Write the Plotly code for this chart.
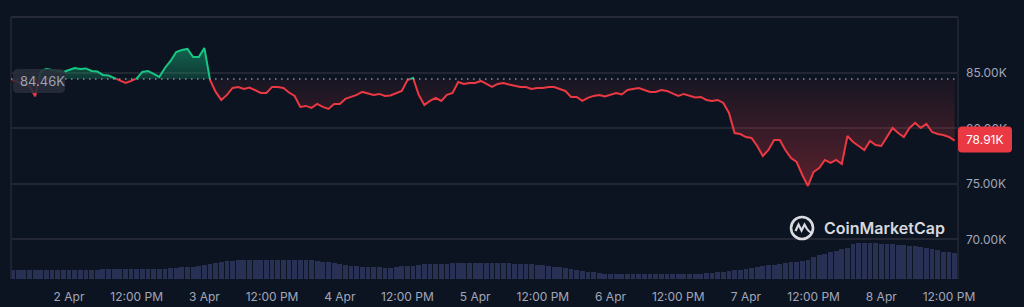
import plotly.graph_objects as go
import pandas as pd

# ---------------- data ----------------
start_time = "2025-04-01 14:00"

price_k = [
    84.37, 84.19, 84.01, 83.83, 82.90, 85.18, 85.36, 85.27, 85.18, 85.09,
    85.27, 85.45, 85.36, 85.41, 85.18, 85.14, 84.82, 84.77, 84.55, 84.32,
    84.10, 84.28, 84.50, 85.09, 85.18, 84.91, 84.64, 85.45, 86.08, 86.89,
    87.07, 87.16, 86.44, 86.44, 87.25, 84.37, 83.29, 82.57, 83.02, 83.65,
    83.74, 83.56, 83.69, 83.47, 83.20, 83.20, 83.74, 83.74, 83.65, 83.24,
    82.93, 81.94, 82.03, 81.85, 82.21, 81.94, 81.76, 82.21, 82.21, 82.66,
    82.84, 83.02, 83.29, 83.15, 83.02, 83.11, 82.93, 82.97, 83.20, 83.38,
    84.37, 84.55, 83.02, 82.12, 82.48, 82.75, 82.48, 83.02, 83.20, 84.19,
    84.01, 84.10, 84.10, 84.28, 84.01, 83.74, 84.01, 84.10, 83.96, 83.83,
    83.74, 83.74, 83.56, 83.65, 83.65, 83.74, 83.74, 83.56, 83.38, 82.84,
    82.84, 82.48, 82.75, 82.93, 83.02, 82.88, 83.02, 83.20, 83.06, 83.47,
    83.56, 83.65, 83.47, 83.29, 83.29, 83.47, 83.38, 83.15, 82.93, 83.11,
    82.93, 82.79, 82.84, 82.57, 82.48, 82.57, 82.30, 81.40, 79.59, 79.50,
    79.23, 79.14, 78.42, 77.52, 78.06, 78.96, 78.96, 78.06, 77.34, 76.98,
    75.81, 74.82, 76.08, 76.44, 77.16, 76.89, 77.16, 76.80, 79.32, 78.78,
    78.42, 78.06, 78.87, 78.51, 78.42, 79.23, 80.05, 79.59, 79.23, 80.05,
    80.50, 80.05, 80.41, 79.68, 79.50, 79.41, 79.23, 78.91,
]

volume_b = [
    13.5, 13.5, 13.5, 13.5, 14.2, 14.2, 14.2, 14.2, 14.2, 14.2,
    14.2, 14.2, 14.2, 14.2, 14.2, 14.2, 15.5, 15.5, 15.5, 15.5,
    15.5, 15.5, 15.5, 15.5, 15.0, 15.0, 15.0, 15.0, 16.5, 17.0,
    17.5, 17.5, 18.0, 19.0, 21.0, 22.5, 24.0, 25.5, 26.5, 27.5,
    28.5, 28.5, 28.5, 28.5, 28.5, 28.5, 28.5, 28.5, 28.5, 28.5,
    28.5, 28.5, 28.5, 28.5, 27.0, 26.0, 25.0, 24.0, 22.5, 21.0,
    20.0, 19.5, 18.5, 18.5, 18.5, 18.5, 17.0, 17.0, 17.5, 19.0,
    19.5, 20.0, 21.0, 22.0, 22.0, 22.0, 22.0, 22.0, 23.5, 24.5,
    24.5, 24.0, 23.5, 23.5, 23.5, 23.5, 23.5, 23.5, 23.5, 22.5,
    22.0, 22.0, 22.0, 21.5, 21.0, 19.5, 18.5, 17.5, 16.0, 14.5,
    13.5, 12.0, 11.0, 10.0, 9.0, 7.5, 7.0, 7.0, 7.0, 7.0,
    7.0, 7.0, 7.0, 7.0, 7.0, 7.0, 7.0, 7.0, 7.0, 7.0,
    7.0, 7.0, 7.0, 8.5, 9.5, 10.0, 10.5, 12.0, 13.0, 14.0,
    15.5, 17.0, 18.5, 19.5, 20.5, 21.5, 22.5, 23.5, 25.0, 26.0,
    27.0, 29.0, 33.0, 36.0, 38.0, 40.0, 42.0, 45.0, 47.0, 53.0,
    54.5, 54.5, 54.0, 53.5, 53.0, 52.5, 52.0, 51.5, 51.0, 50.0,
    49.0, 48.0, 47.0, 45.0, 43.0, 41.0, 40.0, 39.0,
]

base_price_k = 84.46
last_price_k = 78.91

x_tick_dates = [
    "2025-04-02 00:00", "2025-04-02 12:00", "2025-04-03 00:00", "2025-04-03 12:00",
    "2025-04-04 00:00", "2025-04-04 12:00", "2025-04-05 00:00", "2025-04-05 12:00",
    "2025-04-06 00:00", "2025-04-06 12:00", "2025-04-07 00:00", "2025-04-07 12:00",
    "2025-04-08 00:00", "2025-04-08 12:00",
]
x_tick_labels = [
    "2 Apr", "12:00 PM", "3 Apr", "12:00 PM", "4 Apr", "12:00 PM", "5 Apr",
    "12:00 PM", "6 Apr", "12:00 PM", "7 Apr", "12:00 PM", "8 Apr", "12:00 PM",
]
y_tick_values = [70, 75, 80, 85]
y_tick_labels = ["70.00K", "75.00K", "80.00K", "85.00K"]

# ---------------- styling ----------------
BG = "#0d1421"
GRID = "#232733"
GREEN = "#16c784"
RED = "#ea3943"
AXIS_TXT = "#a1a7bb"
FONT = "Inter"
LOGO = "rgba(235,237,242,0.92)"

n = min(len(price_k), len(volume_b))
price = price_k[:n]
volume = volume_b[:n]
times = pd.date_range(start_time, periods=n, freq="h")

# insert baseline crossings so the colour switch happens exactly on the baseline
tnum = times.asi8
cx, cy = [], []
for i in range(n):
    if i > 0:
        a, b = price[i - 1], price[i]
        if (a - base_price_k) * (b - base_price_k) < 0:
            f = (base_price_k - a) / (b - a)
            tc = tnum[i - 1] + f * (tnum[i] - tnum[i - 1])
            cx.append(pd.Timestamp(int(tc)))
            cy.append(base_price_k)
    cx.append(times[i])
    cy.append(price[i])

upper = [max(v, base_price_k) for v in cy]
lower = [min(v, base_price_k) for v in cy]
green_line = [v if v >= base_price_k else None for v in cy]
red_line = [v if v <= base_price_k else None for v in cy]
base_arr = [base_price_k] * len(cx)

fig = go.Figure()

# volume
fig.add_trace(go.Bar(
    x=times, y=volume, yaxis="y2",
    marker=dict(color="#283154", line=dict(width=0)),
    width=3600000 * 0.85, hoverinfo="skip", showlegend=False,
))

# green fill
fig.add_trace(go.Scatter(x=cx, y=base_arr, mode="lines", line=dict(width=0),
                         hoverinfo="skip", showlegend=False))
fig.add_trace(go.Scatter(
    x=cx, y=upper, mode="lines", line=dict(width=0), fill="tonexty",
    fillgradient=dict(type="vertical",
                      colorscale=[[0, "rgba(22,199,132,0.20)"], [1, "rgba(22,199,132,0.45)"]]),
    hoverinfo="skip", showlegend=False))
# red fill
fig.add_trace(go.Scatter(x=cx, y=base_arr, mode="lines", line=dict(width=0),
                         hoverinfo="skip", showlegend=False))
fig.add_trace(go.Scatter(
    x=cx, y=lower, mode="lines", line=dict(width=0), fill="tonexty",
    fillgradient=dict(type="vertical",
                      colorscale=[[0, "rgba(234,57,67,0.34)"], [1, "rgba(234,57,67,0.05)"]]),
    hoverinfo="skip", showlegend=False))

# price lines
fig.add_trace(go.Scatter(x=cx, y=green_line, mode="lines",
                         line=dict(color=GREEN, width=2), connectgaps=False,
                         hoverinfo="skip", showlegend=False))
fig.add_trace(go.Scatter(x=cx, y=red_line, mode="lines",
                         line=dict(color=RED, width=2), connectgaps=False,
                         hoverinfo="skip", showlegend=False))


def rrect(x0, y0, x1, y1, r):
    return (f"M {x0+r},{y0} L {x1-r},{y0} Q {x1},{y0} {x1},{y0+r} "
            f"L {x1},{y1-r} Q {x1},{y1} {x1-r},{y1} L {x0+r},{y1} "
            f"Q {x0},{y1} {x0},{y1-r} L {x0},{y0+r} Q {x0},{y0} {x0+r},{y0} Z")


LOGO_X, LOGO_Y = 0.8353, 0.1947

shapes = [
    # frame
    dict(type="line", xref="paper", yref="paper", x0=0, x1=1, y0=1, y1=1,
         line=dict(color="#272b37", width=2)),
    dict(type="line", xref="paper", yref="paper", x0=0, x1=0, y0=0, y1=1,
         line=dict(color=GRID, width=1.5)),
    dict(type="line", xref="paper", yref="paper", x0=1, x1=1, y0=0, y1=1,
         line=dict(color=GRID, width=1.5)),
    # dotted baseline
    dict(type="line", xref="paper", yref="y", x0=0, x1=1, y0=base_price_k, y1=base_price_k,
         line=dict(color="rgba(170,176,195,0.75)", width=1.5, dash="1.5px,4.5px"), layer="above"),
    # left base label box
    dict(type="path", xref="paper", xsizemode="pixel", xanchor=0,
         yref="y", ysizemode="pixel", yanchor=base_price_k,
         path=rrect(2, -14, 54, 10, 5), fillcolor="rgba(40,45,58,0.88)",
         line=dict(width=0), layer="above"),
    # right last price box
    dict(type="path", xref="paper", xsizemode="pixel", xanchor=1,
         yref="y", ysizemode="pixel", yanchor=last_price_k,
         path=rrect(0, -12, 54, 14, 4), fillcolor=RED,
         line=dict(width=0), layer="above"),
    # CoinMarketCap logo: ring + wave
    dict(type="circle", xref="paper", xsizemode="pixel", xanchor=LOGO_X,
         yref="paper", ysizemode="pixel", yanchor=LOGO_Y,
         x0=-11, x1=11, y0=-11, y1=11,
         line=dict(color=LOGO, width=2.6), layer="above"),
    dict(type="path", xref="paper", xsizemode="pixel", xanchor=LOGO_X,
         yref="paper", ysizemode="pixel", yanchor=LOGO_Y,
         path="M -6.5,-3 L -3.5,3.5 L -0.5,-2.5 L 2.5,3.5 L 5,-1 Q 7,-4 10,-5",
         line=dict(color=LOGO, width=2.2), layer="above"),
]

annotations = [
    dict(xref="paper", yref="y", x=0, y=base_price_k, xanchor="left", yanchor="middle",
         xshift=7, yshift=-2, text="84.46K", showarrow=False,
         font=dict(family=FONT, size=13, color="#9da3b4")),
    dict(xref="paper", yref="y", x=1, y=last_price_k, xanchor="left", yanchor="middle",
         xshift=6, yshift=1, text="78.91K", showarrow=False,
         font=dict(family=FONT, size=12, color="#ffffff")),
    dict(xref="paper", yref="paper", x=0.8564, y=LOGO_Y, xanchor="left", yanchor="middle",
         text="CoinMarketCap", showarrow=False,
         font=dict(family=FONT, size=16, color=LOGO, weight=600)),
]

fig.update_layout(
    width=1024, height=307,
    margin=dict(l=11, r=66, t=17, b=28, autoexpand=False),
    paper_bgcolor=BG, plot_bgcolor=BG,
    font=dict(family=FONT, color=AXIS_TXT, size=12),
    showlegend=False, bargap=0,
    xaxis=dict(
        type="date",
        range=["2025-04-01 13:43", "2025-04-08 13:36"],
        tickvals=x_tick_dates, ticktext=x_tick_labels,
        showgrid=False, zeroline=False, showline=False, ticks="",
        ticklabelstandoff=9, automargin=False,
        tickfont=dict(family=FONT, size=12, color=AXIS_TXT),
        fixedrange=True,
    ),
    yaxis=dict(
        side="right", range=[66.44, 90.04],
        tickvals=y_tick_values, ticktext=y_tick_labels,
        showgrid=True, gridcolor=GRID, gridwidth=1.5,
        zeroline=False, showline=False, ticks="",
        ticklabelstandoff=7, automargin=False,
        tickfont=dict(family=FONT, size=12, color=AXIS_TXT),
    ),
    yaxis2=dict(overlaying="y", range=[0, 393], visible=False, showgrid=False),
    shapes=shapes,
    annotations=annotations,
)

fig.write_html("out.html")
